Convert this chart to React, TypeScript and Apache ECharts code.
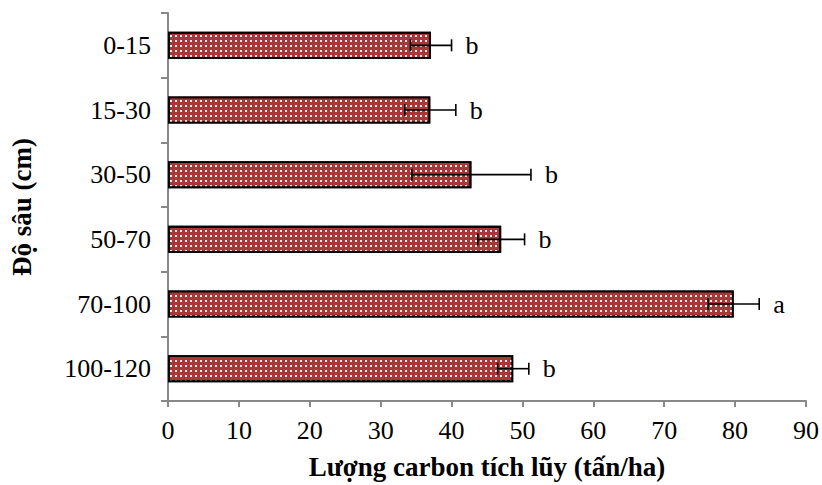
import React, { useEffect, useRef } from "react";
import * as echarts from "echarts";

const categories = ["0-15", "15-30", "30-50", "50-70", "70-100", "100-120"];
const means = [37.1, 37.0, 42.8, 47.0, 79.8, 48.7];
const errors = [2.9, 3.6, 8.4, 3.3, 3.6, 2.2];
const letters = ["b", "b", "b", "b", "a", "b"];
const xTicks = [0, 10, 20, 30, 40, 50, 60, 70, 80, 90];

const FONT = '"Liberation Serif", "Times New Roman", serif';

export default function App() {
  const ref = useRef<HTMLDivElement>(null);
  useEffect(() => {
    if (!ref.current) return;
    const chart = echarts.init(ref.current, null, { renderer: "svg" });
    const errData = categories.map((c, i) => [means[i], i, errors[i]]);
    chart.setOption({
      animation: false,
      textStyle: { fontFamily: FONT },
      grid: { left: 163.5, right: 14, top: 13, bottom: 84 },
      xAxis: {
        type: "value",
        min: xTicks[0],
        max: xTicks[xTicks.length - 1],
        interval: 10,
        splitLine: { show: false },
        axisLine: { show: true, lineStyle: { color: "#888", width: 2 } },
        axisTick: { show: true, length: 6, lineStyle: { color: "#888", width: 2 } },
        axisLabel: { color: "#000", fontSize: 26, fontFamily: FONT, margin: 16 },
        name: "Lượng carbon tích lũy (tấn/ha)",
        nameLocation: "middle",
        nameGap: 52,
        nameTextStyle: { color: "#000", fontSize: 27, fontWeight: "bold", fontFamily: FONT },
      },
      yAxis: {
        type: "category",
        data: categories,
        inverse: true,
        axisLine: { show: true, lineStyle: { color: "#888", width: 2 } },
        axisTick: { show: true, length: 7, lineStyle: { color: "#888", width: 2 } },
        axisLabel: { color: "#000", fontSize: 26, fontFamily: FONT, margin: 17 },
        name: "Độ sâu (cm)",
        nameLocation: "middle",
        nameGap: 133,
        nameRotate: 90,
        nameTextStyle: { color: "#000", fontSize: 27, fontWeight: "bold", fontFamily: FONT },
      },
      series: [
        {
          type: "bar",
          data: means,
          barWidth: 27,
          itemStyle: {
            color: "#a83838",
            borderColor: "#000",
            borderWidth: 1.8,
            decal: {
              symbol: "rect",
              symbolSize: 1,
              color: "rgba(255,255,255,0.9)",
              dashArrayX: [2, 2.2],
              dashArrayY: [2, 2.2],
              rotation: 0,
            },
          },
        },
        {
          type: "custom",
          data: errData,
          z: 10,
          renderItem: (params: any, api: any) => {
            const m = api.value(0);
            const idx = api.value(1);
            const e = api.value(2);
            const lo = api.coord([m - e, idx]);
            const hi = api.coord([m + e, idx]);
            const y = lo[1];
            const cap = 6;
            const st = { stroke: "#000", lineWidth: 1.6 };
            return {
              type: "group",
              children: [
                { type: "line", shape: { x1: lo[0], y1: y, x2: hi[0], y2: y }, style: st },
                { type: "line", shape: { x1: lo[0], y1: y - cap, x2: lo[0], y2: y + cap }, style: st },
                { type: "line", shape: { x1: hi[0], y1: y - cap, x2: hi[0], y2: y + cap }, style: st },
                {
                  type: "text",
                  x: hi[0] + 14,
                  y: y,
                  style: {
                    text: letters[params.dataIndex],
                    fill: "#000",
                    font: `26px ${FONT}`,
                    verticalAlign: "middle",
                    align: "left",
                  },
                },
              ],
            };
          },
        },
      ],
    });
    return () => chart.dispose();
  }, []);
  return <div ref={ref} style={{ width: 822, height: 485, position: "absolute", left: 0, top: 0, background: "#fff" }} />;
}
